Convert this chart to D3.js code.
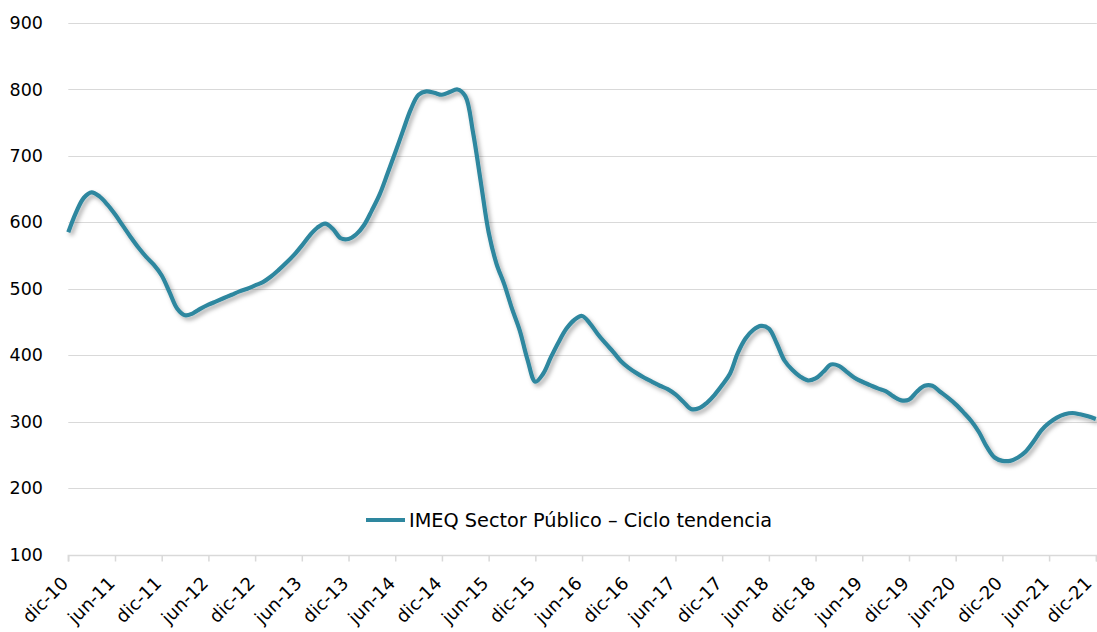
<!DOCTYPE html>
<html>
<head>
<meta charset="utf-8">
<script src="https://cdn.jsdelivr.net/npm/d3@7"></script>
<style>
  html, body { margin: 0; padding: 0; background: #fff; }
  svg { display: block; }
  text { font-family: "DejaVu Sans", Verdana, sans-serif; fill: #000; }
</style>
</head>
<body>
<svg id="chart" width="1097" height="632"></svg>
<script>
// Tick labels on the x axis (every 6 months)
const tickLabels = ["dic-10","jun-11","dic-11","jun-12","dic-12","jun-13","dic-13","jun-14","dic-14","jun-15","dic-15","jun-16","dic-16","jun-17","dic-17","jun-18","dic-18","jun-19","dic-19","jun-20","dic-20","jun-21","dic-21"];
const yTicks = [100,200,300,400,500,600,700,800,900];
const seriesName = "IMEQ Sector Público – Ciclo tendencia";
// Monthly values, dic-10 .. dic-21 (133 months)
const values = [
  585, 615, 637, 645, 639, 627, 612, 595, 578, 562, 548, 536,   // dic-10 .. nov-11
  520, 495, 470, 460, 463, 470, 476, 481, 486, 491, 496, 500,   // dic-11 .. nov-12
  505, 510, 518, 528, 539, 551, 565, 580, 592, 598, 590, 576,   // dic-12 .. nov-13
  575, 582, 596, 618, 642, 673, 705, 738, 770, 792, 797, 795,   // dic-13 .. nov-14
  792, 796, 800, 790, 735, 660, 585, 538, 507, 470, 437, 393,   // dic-14 .. nov-15
  360, 372, 397, 420, 440, 453, 459, 448, 432, 418, 405, 391,   // dic-15 .. nov-16
  381, 373, 366, 360, 354, 349, 341, 330, 319, 320, 328, 340,   // dic-16 .. nov-17
  355, 372, 403, 425, 438, 444, 440, 418, 392, 378, 368, 362,   // dic-17 .. nov-18
  365, 375, 386, 384, 375, 366, 360, 355, 350, 346, 338, 332,   // dic-18 .. nov-19
  333, 345, 354, 354, 345, 336, 326, 314, 301, 284, 262, 246,   // dic-19 .. nov-20
  241, 241, 246, 255, 270, 287, 298, 306, 311, 313, 311, 308,   // dic-20 .. nov-21
  304                                                           // dic-21
];

const svg = d3.select("#chart");
const mLeft = 68.3, mRight = 1095.8, mTop = 23, mBottom = 554.5;

const x = d3.scaleLinear().domain([0, values.length - 1]).range([mLeft, mRight]);
const y = d3.scaleLinear().domain([100, 900]).range([mBottom, mTop]);

const defs = svg.append("defs");
const f = defs.append("filter").attr("id", "shadow")
  .attr("x", "-5%").attr("y", "-5%").attr("width", "110%").attr("height", "110%");
f.append("feDropShadow").attr("dx", 2.5).attr("dy", 3).attr("stdDeviation", 2)
  .attr("flood-color", "#000").attr("flood-opacity", 0.32);

// Gridlines
svg.append("g")
  .selectAll("line").data(yTicks.filter(d => d > 100)).join("line")
  .attr("x1", mLeft).attr("x2", mRight + 1)
  .attr("y1", d => Math.round(y(d)) + 0.5).attr("y2", d => Math.round(y(d)) + 0.5)
  .attr("stroke", "#d9d9d9").attr("stroke-width", 1);

// Y axis labels
svg.append("g")
  .selectAll("text").data(yTicks).join("text")
  .attr("x", 43).attr("y", d => y(d))
  .attr("dy", "0.35em").attr("text-anchor", "end")
  .style("font-size", "17.5px")
  .text(d => d);

// X axis
const tickIdx = tickLabels.map((_, i) => i * 6);
const xAxis = d3.axisBottom(x).tickValues(tickIdx).tickSize(6)
  .tickFormat((d, i) => tickLabels[i]);
const gx = svg.append("g").attr("transform", `translate(0,${Math.round(mBottom) + 0.5})`).call(xAxis);
gx.select(".domain").attr("stroke", "#d9d9d9").attr("stroke-width", 1.5)
  .attr("d", `M${mLeft},6V0H${mRight + 1}V6`);
gx.selectAll(".tick line").attr("stroke", "#d9d9d9").attr("stroke-width", 1.5);
const lastIdx = tickLabels.length - 1;
gx.selectAll(".tick text")
  .attr("y", 0).attr("dy", 0)
  .attr("text-anchor", "end")
  .attr("transform", (d, i) => `translate(${i === lastIdx ? -3.5 : 0.5},29) rotate(-45)`)
  .style("font-size", "18px")
  .style("font-family", "'DejaVu Sans', Verdana, sans-serif")
  .attr("fill", "#000");

// Line
const line = d3.line()
  .x((d, i) => x(i))
  .y(d => y(d))
  .curve(d3.curveCatmullRom.alpha(0.5));

svg.append("path")
  .datum(values)
  .attr("d", line)
  .attr("fill", "none")
  .attr("stroke", "#2e879f")
  .attr("stroke-width", 4.2)
  .attr("stroke-linejoin", "round")
  .attr("filter", "url(#shadow)");

// Legend
const lg = svg.append("g").attr("transform", "translate(366,520)");
lg.append("line").attr("x1", 0).attr("x2", 39).attr("y1", 0).attr("y2", 0)
  .attr("stroke", "#2e879f").attr("stroke-width", 4);
lg.append("text").attr("x", 43).attr("y", 0).attr("dy", "0.35em")
  .style("font-size", "19.3px")
  .text(seriesName);
</script>
</body>
</html>
